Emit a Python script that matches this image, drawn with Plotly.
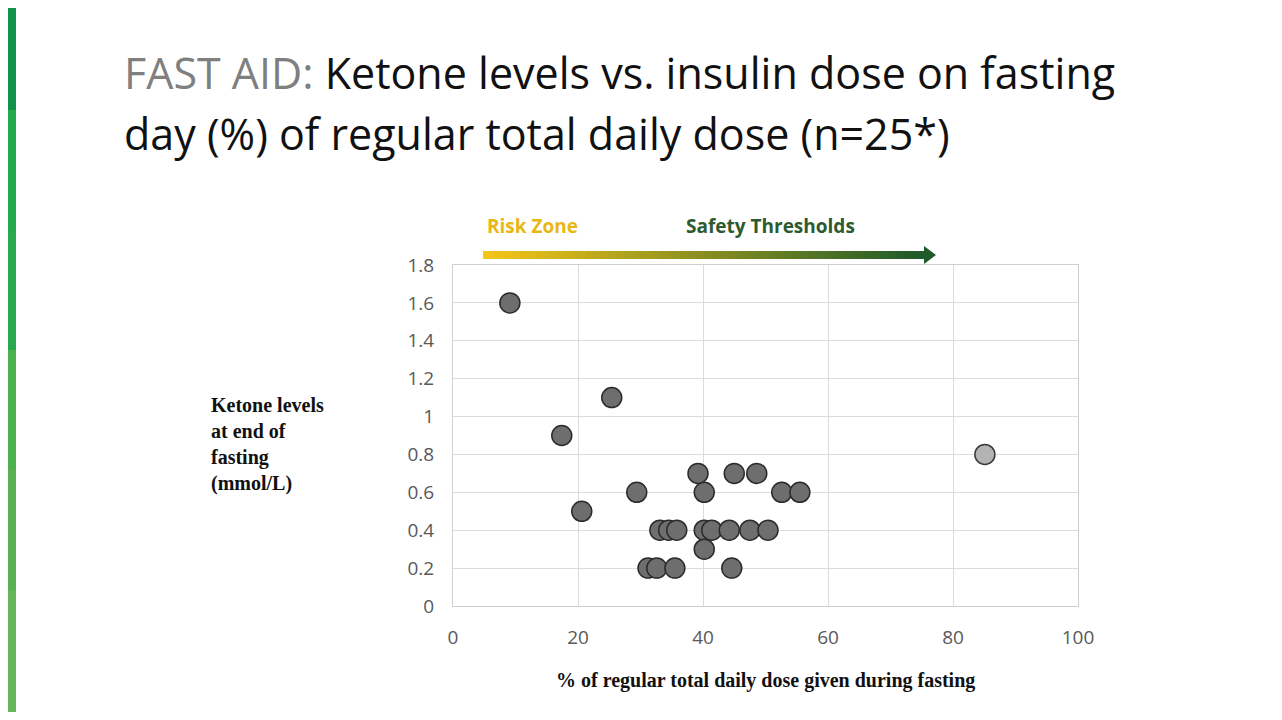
import plotly.graph_objects as go

# dose given on fasting day (% of regular total daily dose) vs ketones (mmol/L)
dose_pct = [9.1, 25.4, 17.4, 20.6, 29.4, 40.2, 52.6, 55.5, 39.2, 45.0, 48.6,
            33.1, 34.5, 35.8, 40.2, 41.4, 44.2, 47.5, 50.4, 40.2,
            31.2, 32.6, 35.5, 44.6]
ketones = [1.6, 1.1, 0.9, 0.5, 0.6, 0.6, 0.6, 0.6, 0.7, 0.7, 0.7,
           0.4, 0.4, 0.4, 0.4, 0.4, 0.4, 0.4, 0.4, 0.3,
           0.2, 0.2, 0.2, 0.2]
outlier_dose = [85.1]
outlier_ketones = [0.8]

OFF = 8  # page body margin
W, H = 1282 - 2 * OFF, 720 - 2 * OFF
L, R, T, B = 453 - OFF, 1078 - OFF, 265 - OFF, 606 - OFF


def px(x):
    return (x - OFF - L) / (R - L)


def py(y):
    return (B - (y - OFF)) / (B - T)


fig = go.Figure()
fig.add_trace(go.Scatter(
    x=dose_pct, y=ketones, mode='markers',
    marker=dict(size=20, color='#6e6e6e', line=dict(color='#2b2b2b', width=1.5)),
    cliponaxis=False,
))
fig.add_trace(go.Scatter(
    x=outlier_dose, y=outlier_ketones, mode='markers',
    marker=dict(size=20, color='#b4b4b4', line=dict(color='#3a3a3a', width=1.5)),
    cliponaxis=False,
))

shapes = []
# green side strip
strip = ['#13904a', '#22aa4c', '#2aa84e', '#4caf50', '#5bb152', '#66b658']
for i, c in enumerate(strip):
    shapes.append(dict(type='rect', xref='paper', yref='paper',
                       x0=px(0), x1=px(16), y0=py(i * 120 + 130), y1=py(i * 120 - 10),
                       fillcolor=c, line_width=0, layer='below'))

# gradient arrow from risk zone to safety thresholds
n = 60
x_start, x_end = 483, 925
c0, c1 = (245, 197, 24), (30, 90, 42)
for i in range(n):
    t = i / (n - 1)
    col = 'rgb({},{},{})'.format(*[int(a + (b - a) * t) for a, b in zip(c0, c1)])
    xa = x_start + (x_end - x_start) * i / n
    xb = x_start + (x_end - x_start) * (i + 1) / n + 1
    shapes.append(dict(type='rect', xref='paper', yref='paper',
                       x0=px(xa), x1=px(xb), y0=py(259), y1=py(251),
                       fillcolor=col, line_width=0))
shapes.append(dict(type='path', xref='paper', yref='paper',
                   path='M {} {} L {} {} L {} {} Z'.format(px(924), py(246), px(936), py(255), px(924), py(264)),
                   fillcolor='rgb(30,90,42)', line_width=0))


def note(x, y, text, font, xanchor='left', align='left'):
    return dict(x=px(x), y=py(y), xref='paper', yref='paper', xanchor=xanchor,
                yanchor='middle', showarrow=False, align=align, text=text, font=font)


title_font = dict(family='Open Sans', size=43, color='#111111')
annotations = [
    note(122, 72, '<span style="color:#7f7f7f">FAST AID:</span> Ketone levels vs. insulin dose on fasting', title_font),
    note(122, 134, 'day (%) of regular total daily dose (n=25*)', title_font),
    note(485, 226, '<b>Risk Zone</b>', dict(family='Open Sans', size=19, color='#e8b714')),
    note(684, 226, '<b>Safety Thresholds</b>', dict(family='Open Sans', size=19, color='#2d5a2f')),
    note(209, 444, '<b>Ketone levels<br>at end of<br>fasting<br>(mmol/L)</b>',
         dict(family='Liberation Serif', size=20, color='#111111')),
    note(765, 680, '<b>% of regular total daily dose given during fasting</b>',
         dict(family='Liberation Serif', size=20, color='#111111'), xanchor='center'),
]

fig.update_layout(
    width=W, height=H, showlegend=False,
    margin=dict(l=L, r=W - R, t=T, b=H - B),
    paper_bgcolor='white', plot_bgcolor='white',
    shapes=shapes, annotations=annotations,
    xaxis=dict(range=[0, 100], dtick=20, showgrid=True, gridcolor='#dcdcdc',
               zeroline=False, showline=True, linecolor='#d0d0d0', mirror=True,
               ticks='', ticklabelstandoff=14,
               tickfont=dict(family='Open Sans', size=19, color='#595959')),
    yaxis=dict(range=[0, 1.8], dtick=0.2, showgrid=True, gridcolor='#dcdcdc',
               zeroline=False, showline=True, linecolor='#d0d0d0', mirror=True,
               ticks='', ticklabelstandoff=14,
               tickfont=dict(family='Open Sans', size=19, color='#595959')),
)

fig.write_html("out.html")
